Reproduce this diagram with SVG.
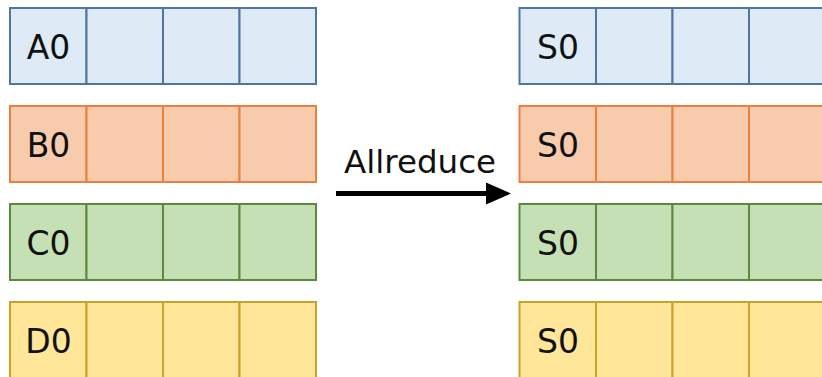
<svg xmlns="http://www.w3.org/2000/svg" width="822" height="377" viewBox="0 0 822 377">
  <defs>
    <style>
      .cell { stroke-width: 2; }
      .a { fill: #DEEBF7; stroke: #4F76A0; }
      .b { fill: #F8CBAD; stroke: #E9803F; }
      .c { fill: #C5E0B4; stroke: #5A8A3C; }
      .d { fill: #FFE699; stroke: #C9A227; }
      .lbl { font-family: "DejaVu Sans", sans-serif; font-size: 33px; fill: #111; stroke: none; text-anchor: middle; }
      .op { font-family: "DejaVu Sans", sans-serif; font-size: 32.5px; fill: #111; stroke: none; text-anchor: middle; }
    </style>
    <g id="row">
      <rect class="cell" x="0" y="0" width="76.5" height="76"/>
      <rect class="cell" x="76.5" y="0" width="76.5" height="76"/>
      <rect class="cell" x="153" y="0" width="76.5" height="76"/>
      <rect class="cell" x="229.5" y="0" width="76.5" height="76"/>
    </g>
  </defs>
  <rect width="822" height="377" fill="#fff"/>

  <g id="nodeA0" class="a">
    <use href="#row" x="10" y="8"/>
    <text class="lbl" x="48.5" y="58.5">A0</text>
  </g>
  <g id="nodeB0" class="b">
    <use href="#row" x="10" y="106"/>
    <text class="lbl" x="48.5" y="156.5">B0</text>
  </g>
  <g id="nodeC0" class="c">
    <use href="#row" x="10" y="204"/>
    <text class="lbl" x="48.5" y="254.5">C0</text>
  </g>
  <g id="nodeD0" class="d">
    <use href="#row" x="10" y="302"/>
    <text class="lbl" x="48.5" y="352.5">D0</text>
  </g>

  <g id="nodeS0a" class="a">
    <use href="#row" x="519.5" y="8"/>
    <text class="lbl" x="558" y="58.5">S0</text>
  </g>
  <g id="nodeS0b" class="b">
    <use href="#row" x="519.5" y="106"/>
    <text class="lbl" x="558" y="156.5">S0</text>
  </g>
  <g id="nodeS0c" class="c">
    <use href="#row" x="519.5" y="204"/>
    <text class="lbl" x="558" y="254.5">S0</text>
  </g>
  <g id="nodeS0d" class="d">
    <use href="#row" x="519.5" y="302"/>
    <text class="lbl" x="558" y="352.5">S0</text>
  </g>

  <g id="connectors">
    <line x1="336" y1="193.5" x2="489" y2="193.5" stroke="#000" stroke-width="5"/>
    <polygon points="486,182.5 511,193.5 486,204.5" fill="#000"/>
    <text class="op" x="420" y="173">Allreduce</text>
  </g>
</svg>
